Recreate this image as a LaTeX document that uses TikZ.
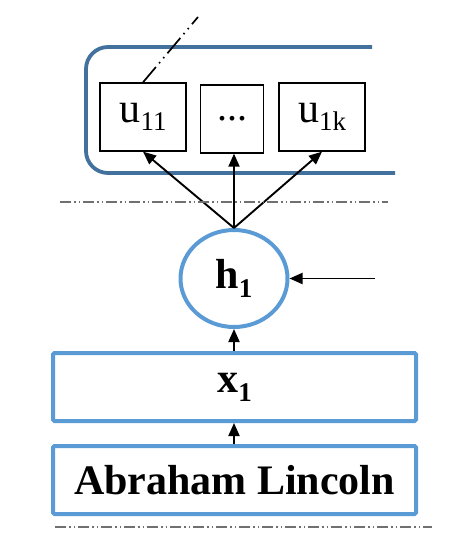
\documentclass[tikz,border=0pt]{standalone}
\usepackage{fontspec}
\setmainfont{Liberation Serif}
\usetikzlibrary{arrows.meta,shapes.geometric}
\definecolor{darkblue}{HTML}{41719C}
\definecolor{lightblue}{HTML}{5B9BD5}
\definecolor{sepgray}{HTML}{707070}
\tikzset{
  ubox/.style={draw=black, line width=1.3pt, inner sep=0pt},
  bluebox/.style={draw=lightblue, line width=4pt, rounded corners=1.5pt, inner sep=0pt},
  conn/.style={-{Triangle[length=13pt,width=11pt]}, line width=1.9pt, black},
  sep/.style={draw=sepgray, line width=1.2pt, dash pattern=on 11pt off 3pt on 1.5pt off 3pt on 1.5pt off 3pt},
  diag/.style={draw=black, line width=1.7pt, dash pattern=on 20pt off 5pt on 1.5pt off 5pt on 1.5pt off 5pt},
  big/.style={font=\fontsize{42}{48}\selectfont\bfseries},
  ufont/.style={font=\fontsize{42}{48}\selectfont}
}
\newcommand{\bsub}[1]{\raisebox{-9pt}{\fontsize{27}{30}\selectfont #1}}
\newcommand{\usub}[1]{\raisebox{-8pt}{\fontsize{27}{30}\selectfont #1}}
\begin{document}
\begin{tikzpicture}[x=1pt,y=-1pt]
\useasboundingbox (0,0) rectangle (453,537);
% container (open on the right)
\draw[darkblue, line width=3.8pt, rounded corners=22pt]
  (372,47) -- (86,47) -- (86,173) -- (395,173);
% u boxes
\node[ubox, minimum width=86pt, minimum height=68pt, ufont] (u11) at (143,117) {u\usub{11}};
\node[ubox, minimum width=63pt, minimum height=68pt, ufont] (udots) at (232,119) {\raisebox{-4pt}{\fontsize{40}{44}\selectfont...}};
\node[ubox, minimum width=86pt, minimum height=68pt, ufont] (u1k) at (322,117) {u\usub{1k}};
\coordinate (dtop) at (198,17);
\draw[diag] (u11.north) -- (dtop);
% h1
\node[draw=lightblue, line width=4pt, ellipse, minimum width=107pt, minimum height=97pt, inner sep=0pt, big] (h1) at (234,278.5) {h\bsub{1}};
\draw[conn] (h1.north) -- (u11.south);
\draw[conn] (h1.north) -- (h1.north |- udots.south);
\draw[conn] (h1.north) -- (u1k.south);
\coordinate (hin) at (375,278.5);
\draw[conn] (hin) -- (h1.east);
% separators
\coordinate (s1a) at (60,202);
\coordinate (s1b) at (388,202);
\draw[sep] (s1a) -- (s1b);
\coordinate (s2a) at (55,527);
\coordinate (s2b) at (432,527);
\draw[sep] (s2a) -- (s2b);
% x1 and Lincoln
\node[bluebox, minimum width=363pt, minimum height=68pt, big] (x1) at (234.5,387) {x\bsub{1}};
\node[bluebox, minimum width=363pt, minimum height=68pt, big] (al) at (234.5,480) {Abraham Lincoln};
\draw[conn] (x1.north -| h1.south) -- (h1.south);
\draw[conn] (al.north -| h1.south) -- (x1.south -| h1.south);
\end{tikzpicture}
\end{document}
